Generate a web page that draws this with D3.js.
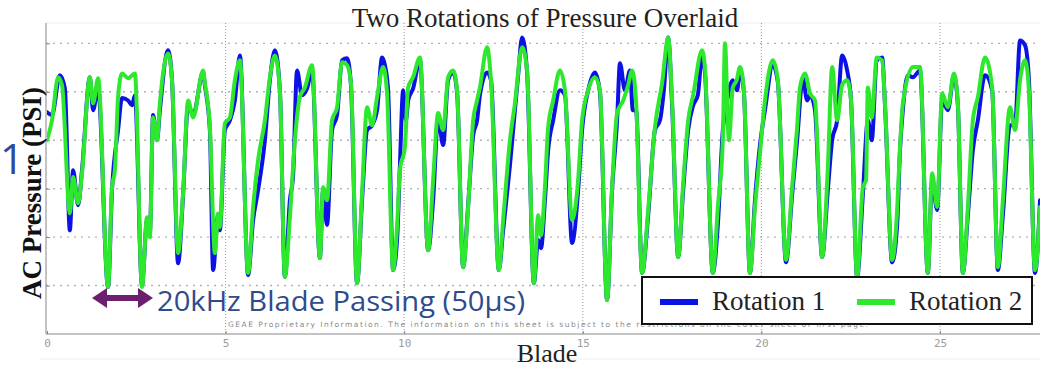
<!DOCTYPE html>
<html>
<head>
<meta charset="utf-8">
<script src="https://cdn.jsdelivr.net/npm/d3@7"></script>
<style>
  html, body { margin: 0; padding: 0; background: #fff; }
  svg { display: block; }
</style>
</head>
<body>
<svg id="chart" width="1040" height="368"></svg>
<script>
// blade position vs AC pressure
var rotation1 = [
  [0.00,1.58],[0.14,1.52],[0.36,2.34],[0.50,2.07],[0.64,-0.86],[0.73,0.38],[0.87,-0.34],[0.98,0.38],
  [1.20,2.30],[1.29,1.62],[1.43,2.07],[1.71,-2.03],[1.82,-0.03],[1.99,1.21],[2.10,1.87],[2.27,1.82],
  [2.38,1.72],[2.46,1.93],[2.66,-1.99],[2.80,-0.65],[2.88,-0.90],[2.97,1.52],[3.08,1.00],[3.16,1.62],
  [3.39,2.86],[3.50,2.24],[3.67,-1.54],[3.81,-0.13],[3.95,1.72],[4.09,1.52],[4.37,2.40],[4.42,2.13],
  [4.56,1.21],[4.65,-1.68],[4.79,-0.55],[4.84,-0.86],[4.98,1.21],[5.12,1.41],[5.26,1.82],[5.40,2.75],
  [5.63,-1.78],[5.77,-0.65],[5.91,-0.03],[6.10,1.00],[6.24,2.24],[6.38,2.86],[6.52,2.03],[6.66,-1.82],
  [6.80,-0.24],[6.89,0.28],[7.00,2.44],[7.14,1.93],[7.28,2.07],[7.42,2.44],[7.64,-1.43],[7.73,-0.03],
  [7.84,-0.75],[7.98,1.21],[8.12,1.52],[8.26,2.65],[8.40,2.69],[8.51,2.13],[8.68,-1.95],[8.82,-0.24],
  [8.96,1.21],[9.10,1.31],[9.24,1.62],[9.38,2.71],[9.46,2.55],[9.55,2.03],[9.69,-1.68],[9.80,-1.06],
  [9.88,0.48],[9.97,2.03],[10.05,1.41],[10.11,1.82],[10.25,2.07],[10.44,2.65],[10.67,-1.27],[10.81,-0.24],
  [10.95,1.45],[11.09,0.90],[11.23,2.24],[11.37,2.40],[11.48,1.99],[11.65,-1.62],[11.79,-0.34],[11.93,1.10],
  [12.04,1.41],[12.12,1.93],[12.32,2.40],[12.43,2.24],[12.65,-1.68],[12.77,-0.86],[12.96,0.48],[13.10,1.62],
  [13.19,2.34],[13.30,3.12],[13.44,2.40],[13.63,-1.95],[13.75,-1.06],[13.83,-1.23],[13.94,-0.24],[14.03,0.79],
  [14.17,1.41],[14.36,2.03],[14.50,1.93],[14.70,-1.12],[14.87,-0.03],[14.98,1.21],[15.15,2.03],[15.34,2.40],
  [15.48,1.99],[15.68,-2.30],[15.82,-0.03],[15.96,1.41],[16.04,2.59],[16.18,2.03],[16.32,2.44],[16.40,1.62],
  [16.49,1.62],[16.66,-1.74],[16.83,-0.55],[17.02,1.21],[17.16,1.41],[17.27,2.03],[17.39,3.12],[17.50,1.72],
  [17.67,-1.41],[17.81,-0.03],[17.95,1.21],[18.09,1.72],[18.22,1.93],[18.34,2.75],[18.42,2.40],[18.64,-1.74],
  [18.78,-0.75],[18.92,1.21],[19.04,1.82],[19.20,2.24],[19.32,2.03],[19.40,2.44],[19.51,1.99],[19.68,-1.74],
  [19.82,-0.24],[19.96,0.90],[20.10,1.62],[20.32,2.55],[20.46,2.20],[20.69,-1.52],[20.86,-0.13],[21.00,1.00],
  [21.16,2.28],[21.28,1.82],[21.36,1.93],[21.50,1.62],[21.70,-1.41],[21.86,-0.03],[21.98,1.00],[22.12,1.41],
  [22.26,2.75],[22.40,2.44],[22.51,1.82],[22.68,-1.82],[22.84,-0.13],[22.98,1.41],[23.09,1.00],[23.23,2.65],
  [23.38,2.71],[23.46,1.72],[23.66,-1.52],[23.80,-0.75],[23.88,0.79],[23.96,1.62],[24.10,2.34],[24.24,2.30],
  [24.44,2.44],[24.66,-1.74],[24.78,0.18],[24.92,-0.44],[25.06,1.82],[25.22,1.62],[25.39,2.34],[25.50,1.72],
  [25.64,-1.74],[25.78,-0.55],[25.92,0.79],[26.06,1.41],[26.26,2.34],[26.46,2.03],[26.62,-1.68],[26.76,-0.55],
  [26.96,1.31],[27.10,1.31],[27.24,3.06],[27.38,2.96],[27.49,2.24],[27.66,-1.74],[27.80,-0.24]
];

var rotation2 = [
  [0.00,1.00],[0.14,1.41],[0.31,2.30],[0.42,2.14],[0.64,-0.51],[0.73,0.24],[0.87,-0.30],[0.98,0.32],
  [1.20,2.30],[1.29,1.76],[1.43,2.28],[1.71,-2.03],[1.82,0.03],[1.90,0.38],[1.99,1.89],[2.10,2.38],
  [2.27,2.28],[2.46,2.38],[2.66,-2.03],[2.80,-0.59],[2.88,-1.00],[2.97,1.47],[3.08,1.00],[3.16,1.76],
  [3.39,2.79],[3.50,2.24],[3.67,-1.33],[3.81,-0.09],[3.95,1.82],[4.09,1.47],[4.37,2.44],[4.42,2.18],
  [4.56,1.27],[4.70,-1.33],[4.79,-0.51],[4.84,-0.79],[4.98,1.35],[5.12,1.47],[5.26,2.24],[5.40,2.65],
  [5.63,-1.74],[5.77,-0.38],[5.91,0.59],[6.10,1.41],[6.24,2.30],[6.38,2.75],[6.52,2.03],[6.66,-1.82],
  [6.80,-0.59],[6.94,1.00],[7.08,1.89],[7.22,2.09],[7.42,2.55],[7.64,-1.43],[7.73,0.03],[7.84,-0.24],
  [7.98,1.41],[8.12,1.68],[8.26,2.61],[8.40,2.55],[8.51,2.18],[8.68,-1.95],[8.82,-0.09],[8.96,1.68],
  [9.10,1.31],[9.24,1.89],[9.41,2.51],[9.52,1.97],[9.69,-1.68],[9.80,-0.79],[9.88,0.38],[10.02,0.86],
  [10.11,2.09],[10.25,2.30],[10.44,2.71],[10.67,-1.27],[10.81,0.18],[10.95,1.56],[11.09,1.21],[11.23,2.30],
  [11.37,2.44],[11.48,2.03],[11.65,-1.62],[11.79,-0.38],[11.93,1.41],[12.04,1.82],[12.12,2.09],[12.32,2.92],
  [12.43,2.24],[12.65,-1.68],[12.77,-0.65],[12.96,1.00],[13.10,1.76],[13.30,2.92],[13.44,2.44],[13.63,-1.95],
  [13.75,-0.55],[13.83,-0.96],[13.94,0.03],[14.03,1.27],[14.17,1.82],[14.36,2.44],[14.50,2.03],[14.70,-0.65],
  [14.87,0.18],[14.98,1.41],[15.15,2.03],[15.34,2.30],[15.48,2.03],[15.68,-2.30],[15.82,0.03],[15.96,1.56],
  [16.13,1.82],[16.27,2.14],[16.38,2.44],[16.49,1.82],[16.66,-1.74],[16.83,-0.44],[17.02,1.27],[17.22,2.18],
  [17.39,3.12],[17.50,1.82],[17.67,-1.41],[17.81,0.11],[17.95,1.41],[18.09,1.93],[18.34,2.86],[18.42,2.49],
  [18.64,-1.74],[18.78,-0.38],[18.92,1.00],[18.98,3.00],[19.09,1.00],[19.20,2.09],[19.31,2.24],[19.40,2.51],
  [19.51,2.03],[19.68,-1.74],[19.82,-0.38],[19.96,0.73],[20.10,1.82],[20.32,2.65],[20.46,2.24],[20.69,-1.47],
  [20.86,0.03],[21.00,1.27],[21.08,2.09],[21.22,2.38],[21.36,1.97],[21.50,1.82],[21.70,-1.41],[21.86,0.44],
  [21.98,2.51],[22.12,1.41],[22.26,2.14],[22.40,2.24],[22.51,1.82],[22.68,-1.82],[22.84,0.03],[22.93,0.18],
  [22.98,2.09],[23.09,1.47],[23.23,2.71],[23.38,2.65],[23.46,1.76],[23.66,-1.47],[23.80,-0.44],[23.88,0.86],
  [23.96,1.76],[24.24,2.51],[24.44,2.51],[24.66,-1.74],[24.78,0.32],[24.92,-0.38],[25.06,1.97],[25.22,1.68],
  [25.39,2.38],[25.50,1.76],[25.64,-1.74],[25.78,-0.38],[25.92,1.41],[26.06,1.89],[26.26,2.71],[26.46,2.09],
  [26.62,-1.62],[26.76,-0.24],[26.96,1.68],[27.10,1.21],[27.24,2.24],[27.38,2.65],[27.49,2.03],[27.66,-1.68],
  [27.80,-0.38]
];

var xTicks = [0, 5, 10, 15, 20, 25];
var yGrid = [-2, -1, 0, 1, 2, 3];
var seriesNames = ["Rotation 1", "Rotation 2"];
var seriesColors = ["#0c12e6", "#2ee82e"];

var svg = d3.select("#chart");
var width = +svg.attr("width"), height = +svg.attr("height");

// note: "top" is taken by window.top, so plotTop
var plotLeft = 46, plotTop = 23, plotBottom = 334;

var x = d3.scaleLinear().domain([0, 28]).range([47, 47 + 28 * 35.72]);
var y = d3.scaleLinear().domain([-3, 3.42]).range([plotBottom, plotTop]);

// faint frame
svg.append("line").attr("x1", plotLeft).attr("x2", width).attr("y1", plotTop).attr("y2", plotTop)
  .attr("stroke", "#eee").attr("stroke-width", 1);
svg.append("line").attr("x1", 40).attr("x2", width).attr("y1", 359).attr("y2", 359)
  .attr("stroke", "#f0f0f0").attr("stroke-width", 1);

// grid
svg.append("g").selectAll("line").data(yGrid).enter().append("line")
  .attr("x1", plotLeft).attr("x2", width)
  .attr("y1", function (d) { return y(d); }).attr("y2", function (d) { return y(d); })
  .attr("stroke", "#b4b4b4").attr("stroke-width", 1.4).attr("stroke-dasharray", "2,5");

svg.append("g").selectAll("line").data(xTicks.slice(1)).enter().append("line")
  .attr("x1", function (d) { return x(d); }).attr("x2", function (d) { return x(d); })
  .attr("y1", plotTop).attr("y2", plotBottom)
  .attr("stroke", "#999").attr("stroke-width", 1).attr("stroke-dasharray", "1,2");

// axes
var xAxis = svg.append("g")
  .attr("transform", "translate(0," + plotBottom + ")")
  .call(d3.axisBottom(x).tickValues(xTicks).tickSize(3).tickFormat(d3.format("d")));
xAxis.select(".domain").attr("stroke", "#888").attr("d", "M" + plotLeft + ",0H" + width);
xAxis.selectAll(".tick line").attr("stroke", "#888").attr("y2", -3);
xAxis.selectAll(".tick text")
  .attr("y", 5).attr("fill", "#9a9a9a")
  .style("font-family", "'DejaVu Sans Mono', monospace").style("font-size", "11px");

var yAxis = svg.append("g")
  .attr("transform", "translate(" + plotLeft + ",0)")
  .call(d3.axisLeft(y).tickValues(yGrid).tickSize(-4).tickFormat(""));
yAxis.select(".domain").attr("stroke", "#888").attr("d", "M0," + plotTop + "V" + plotBottom);
yAxis.selectAll(".tick line").attr("stroke", "#888");

// watermark
svg.append("text")
  .attr("x", 228).attr("y", 327)
  .attr("fill", "#8a8a8a")
  .style("font-family", "'DejaVu Sans', sans-serif").style("font-size", "7.5px")
  .attr("textLength", 640)
  .text("GEAE Proprietary Information.   The information on this sheet is subject to the restrictions on the cover sheet or first page.");

// lines
svg.append("clipPath").attr("id", "plot")
  .append("rect").attr("x", plotLeft + 1).attr("y", 0).attr("width", width - plotLeft).attr("height", plotBottom);

var line = d3.line()
  .curve(d3.curveMonotoneX)
  .x(function (d) { return x(d[0]); })
  .y(function (d) { return y(d[1]); });

var plot = svg.append("g").attr("clip-path", "url(#plot)");
[rotation1, rotation2].forEach(function (s, i) {
  plot.append("path")
    .datum(s)
    .attr("d", line)
    .attr("fill", "none")
    .attr("stroke", seriesColors[i])
    .attr("stroke-width", 4)
    .attr("stroke-linejoin", "round")
    .attr("stroke-linecap", "round");
});

// title + labels
var serif = "'Liberation Serif', 'Times New Roman', serif";
svg.append("text")
  .attr("x", 545).attr("y", 27).attr("text-anchor", "middle")
  .attr("fill", "#222").style("font-family", serif).style("font-size", "27px")
  .text("Two Rotations of Pressure Overlaid");

svg.append("text")
  .attr("x", 547).attr("y", 362).attr("text-anchor", "middle")
  .attr("fill", "#222").style("font-family", serif).style("font-size", "26px")
  .text("Blade");

svg.append("text")
  .attr("transform", "translate(41,193) rotate(-90)")
  .attr("text-anchor", "middle")
  .attr("fill", "#111").style("font-family", serif).style("font-size", "27px").style("font-weight", "bold")
  .text("AC Pressure (PSI)");

svg.append("text")
  .attr("x", 0).attr("y", 174)
  .attr("fill", "#2e4a9e").style("font-family", "'Open Sans', sans-serif").style("font-size", "42px")
  .text("1");

// blade passing annotation
var arrowY = 298;
svg.append("line")
  .attr("x1", 104).attr("x2", 141).attr("y1", arrowY).attr("y2", arrowY)
  .attr("stroke", "#6b1f6e").attr("stroke-width", 6);
svg.append("path")
  .attr("d", "M92," + arrowY + "L107," + (arrowY - 10) + "L107," + (arrowY + 10) + "Z")
  .attr("fill", "#6b1f6e");
svg.append("path")
  .attr("d", "M153," + arrowY + "L138," + (arrowY - 10) + "L138," + (arrowY + 10) + "Z")
  .attr("fill", "#6b1f6e");
svg.append("text")
  .attr("x", 157).attr("y", 311)
  .attr("fill", "#2f4b8c").style("font-family", "'Open Sans', sans-serif").style("font-size", "28px")
  .attr("textLength", 368).attr("lengthAdjust", "spacingAndGlyphs")
  .text("20kHz Blade Passing (50\u00b5s)");

// legend
var legend = svg.append("g");
legend.append("rect")
  .attr("x", 642).attr("y", 277).attr("width", 390).attr("height", 47)
  .attr("fill", "#fff").attr("stroke", "#111").attr("stroke-width", 2);
var legX = [660, 857];
seriesNames.forEach(function (n, i) {
  legend.append("line")
    .attr("x1", legX[i]).attr("x2", legX[i] + 38).attr("y1", 302).attr("y2", 302)
    .attr("stroke", seriesColors[i]).attr("stroke-width", 6);
  legend.append("text")
    .attr("x", legX[i] + 52).attr("y", 310)
    .attr("fill", "#222").style("font-family", serif).style("font-size", "27px")
    .text(n);
});
</script>
</body>
</html>
